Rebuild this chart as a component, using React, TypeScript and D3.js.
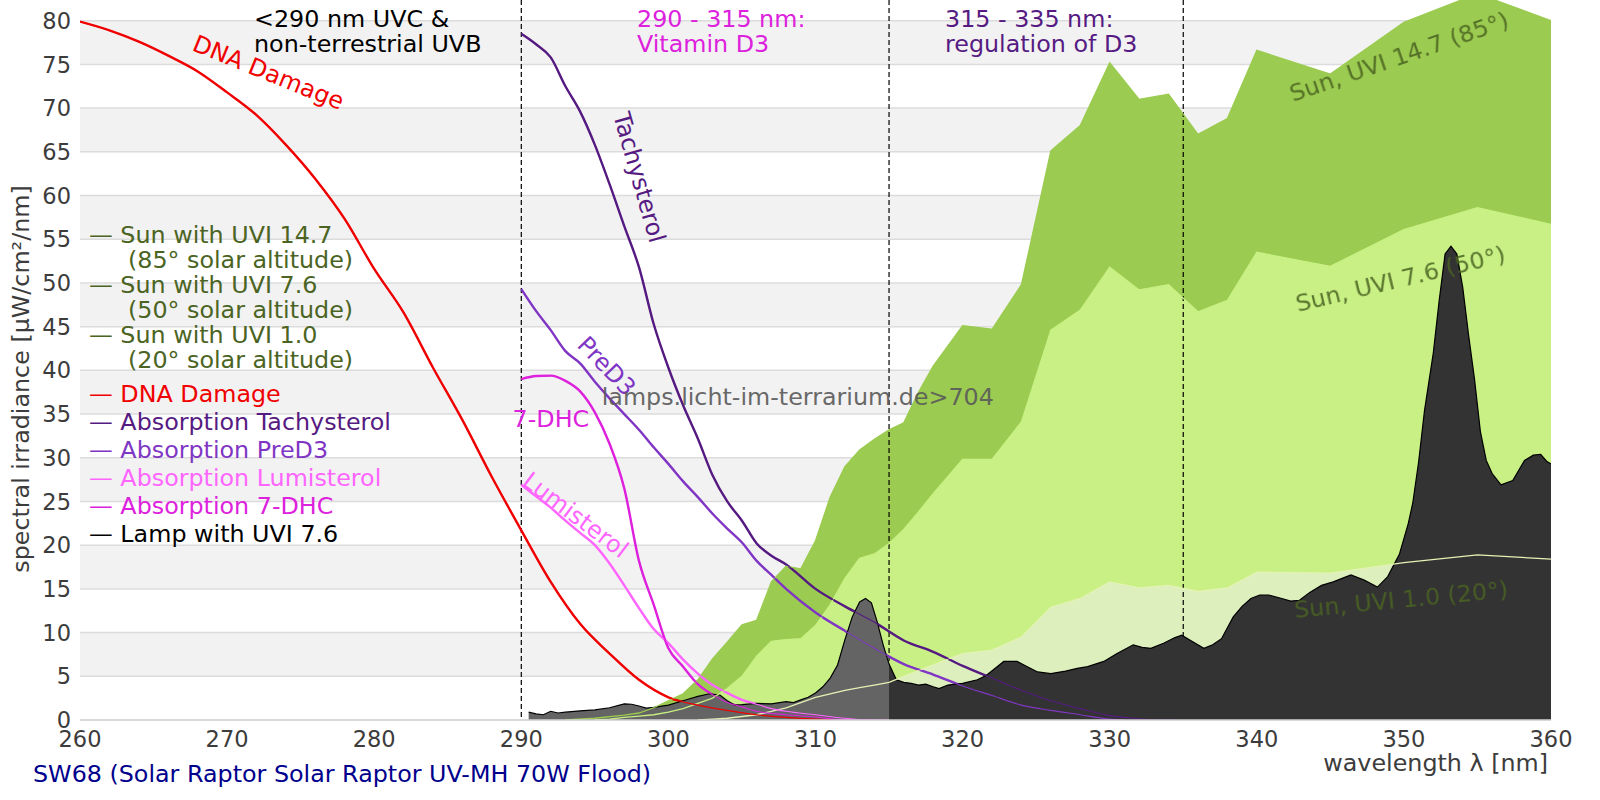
import * as d3 from "d3";

type Pt = [number, number];

const X_TICKS = [260, 270, 280, 290, 300, 310, 320, 330, 340, 350, 360];
const Y_TICKS = [0, 5, 10, 15, 20, 25, 30, 35, 40, 45, 50, 55, 60, 65, 70, 75, 80];
const REGION_BOUNDS = [290, 315, 335];

const DNA_DAMAGE: Pt[] = [
  [260, 79.9], [262, 78.9], [264, 77.6], [266, 76.0], [268, 74.2], [270, 71.8],
  [272, 69.2], [274, 65.8], [276, 61.9], [278, 57.3], [280, 51.6], [282, 46.6],
  [284, 40.3], [286, 34.3], [288, 27.8], [290, 21.7], [292, 15.8], [294, 11.0],
  [296, 7.6], [298, 4.6], [300, 2.6], [302, 1.7], [304, 1.1], [306, 0.6],
  [308, 0.3], [310, 0.1], [312, 0],
];

const TACHYSTEROL: Pt[] = [
  [290, 78.5], [291, 77.3], [292, 75.8], [293, 72.5], [294, 69.6], [295, 65.8],
  [296, 61.3], [297, 56.5], [298, 51.8], [299, 45.3], [300, 40.3], [301, 36.0],
  [302, 32.2], [303, 28.0], [304, 25.0], [305, 22.8], [306, 20.2], [307, 18.8],
  [308, 17.8], [310, 15.0], [312, 13.0], [314, 11.2], [316, 9.1], [318, 7.8],
  [320, 6.2], [322, 4.8], [324, 3.4], [326, 2.2], [328, 1.3], [330, 0.5],
  [332, 0.15], [333, 0], [334.5, 0],
];

const PRED3: Pt[] = [
  [290, 49.3], [291, 46.8], [292, 44.6], [293, 42.2], [294, 40.8], [295, 38.7],
  [296, 36.8], [297, 35.0], [298, 33.2], [299, 31.2], [300, 29.3], [301, 27.3],
  [302, 25.5], [303, 23.6], [304, 21.9], [305, 20.3], [306, 18.2], [307, 16.6],
  [308, 15.0], [310, 12.3], [312, 10.2], [314, 8.2], [316, 6.4], [318, 5.2],
  [320, 3.9], [322, 2.8], [324, 1.7], [326, 1.1], [328, 0.6], [330, 0.1],
  [331, 0],
];

const LUMISTEROL: Pt[] = [
  [290, 26.9], [291, 25.6], [292, 24.3], [293, 22.8], [294, 21.4], [295, 20.0],
  [296, 17.9], [297, 15.4], [298, 12.8], [299, 10.4], [300, 8.8], [301, 6.9],
  [302, 5.3], [303, 4.0], [304, 3.1], [305, 2.3], [306, 1.8], [307, 1.3],
  [308, 1.0], [310, 0.6], [312, 0.2], [313.5, 0], [315, 0],
];

const DHC7: Pt[] = [
  [290, 39.0], [291, 39.35], [292, 39.4], [293, 38.8], [294, 37.6], [295, 35.2],
  [296, 31.6], [297, 26.5], [298, 18.2], [299, 13.2], [300, 8.2], [301, 6.1],
  [302, 4.1], [303, 2.9], [304, 2.0], [305, 1.5], [306, 1.0], [308, 0.6],
  [310, 0.35], [312, 0], [314, 0],
];

const SUN_UVI_14_7: Pt[] = [
  [293, 0], [295, 0.2], [297, 0.55], [298, 0.8], [299, 1.4], [300, 2.2],
  [301, 3.0], [302, 4.6], [303, 7.0], [304, 8.9], [305, 10.9], [306, 11.4],
  [307, 15.8], [308, 17.6], [309, 17.3], [310, 20.5], [311, 25.5], [312, 29.0],
  [313, 30.9], [314, 32.1], [315, 33.2], [316, 34.0], [317, 37.5], [318, 40.5],
  [320, 45.1], [322, 44.7], [324, 49.8], [326, 65.1], [328, 68.0], [330, 75.2],
  [332, 71.0], [334, 71.6], [336, 67.0], [338, 68.8], [340, 76.6], [345, 73.9],
  [350, 79.8], [355, 83.1], [360, 80.0],
];

const SUN_UVI_7_6: Pt[] = [
  [295, 0], [296, 0.1], [297, 0.3], [298, 0.45], [299, 0.6], [300, 0.9],
  [301, 1.3], [302, 1.9], [303, 2.5], [304, 3.6], [305, 5.0], [306, 7.3],
  [307, 9.0], [308, 9.2], [309, 9.3], [310, 10.8], [311, 13.2], [312, 16.2],
  [313, 18.5], [314, 19.0], [315, 20.2], [316, 21.8], [317, 23.8], [318, 25.9],
  [320, 29.8], [322, 29.8], [324, 34.1], [326, 44.6], [328, 46.9], [330, 51.8],
  [332, 49.2], [334, 49.8], [336, 46.7], [338, 48.0], [340, 53.5], [345, 51.9],
  [350, 56.1], [355, 58.6], [360, 56.7],
];

const SUN_UVI_1_0: Pt[] = [
  [302, 0], [303, 0.1], [304, 0.2], [305, 0.4], [306, 0.6], [307, 1.0],
  [308, 1.4], [309, 2.0], [310, 2.6], [311, 3.0], [312, 3.4], [313, 3.7],
  [314, 4.0], [315, 4.3], [316, 5.0], [318, 6.3], [320, 7.6], [322, 8.0],
  [324, 9.5], [326, 12.9], [328, 13.9], [330, 15.8], [332, 15.1], [334, 15.4],
  [336, 14.7], [338, 15.1], [340, 16.9], [345, 16.8], [350, 18.0], [355, 18.9],
  [360, 18.4],
];

const LAMP: Pt[] = [
  [290.5, 0.9], [291, 0.7], [291.5, 0.6], [292, 1.0], [292.5, 0.8], [293, 0.9],
  [294, 1.05], [295, 1.15], [296, 1.4], [297, 1.85], [297.5, 1.8], [298, 1.6],
  [298.5, 1.35], [299, 1.45], [300, 1.7], [301, 2.2], [302, 2.7], [302.8, 3.0],
  [303.5, 2.85], [304, 2.2], [304.5, 1.7], [305, 1.75], [306, 1.9], [307, 1.85],
  [308, 2.1], [308.5, 2.0], [309, 2.3], [309.5, 2.6], [310, 3.1], [310.5, 3.8],
  [311, 4.8], [311.5, 6.3], [312, 9.2], [312.5, 11.8], [313, 13.5], [313.4, 13.9],
  [313.8, 13.4], [314.2, 11.2], [314.6, 8.6], [315, 6.4], [315.5, 4.6], [316, 4.3],
  [316.5, 4.2], [317, 4.0], [317.5, 4.1], [318, 3.8], [318.4, 3.6], [319, 4.0],
  [319.5, 4.1], [320, 4.2], [321, 4.6], [321.6, 5.1], [322.2, 5.9], [322.8, 6.7],
  [323.7, 6.7], [324.4, 6.1], [325.1, 5.5], [326, 5.3], [326.3, 5.4], [327, 5.6],
  [327.8, 5.9], [328.5, 6.1], [329.6, 6.7], [330.5, 7.6], [331.6, 8.6], [332.2, 8.3],
  [332.8, 8.2], [333.7, 8.8], [334.4, 9.4], [334.9, 9.7], [335.5, 9.1], [336.4, 8.2],
  [337, 8.6], [337.6, 9.3], [338.4, 11.8], [339, 13.0], [339.6, 13.9], [340.2, 14.3],
  [340.8, 14.3], [341.7, 13.9], [342.3, 13.6], [342.9, 13.7], [343.6, 14.6], [344.4, 15.4],
  [345.2, 15.8], [345.8, 16.2], [346.4, 16.6], [347.3, 16.0], [348.2, 15.2], [348.9, 16.4],
  [349.7, 19.0], [350.3, 22.5], [350.6, 24.8], [351, 29.5], [351.4, 35.4], [352, 42],
  [352.4, 48], [352.8, 53.3], [353.2, 54.2], [353.6, 53.3], [354, 49.5], [354.4, 44],
  [354.8, 39], [355.2, 33], [355.6, 29.7], [356, 28.2], [356.6, 26.9], [357.4, 27.4],
  [358.2, 29.7], [358.8, 30.3], [359.3, 30.4], [359.7, 29.6], [360, 29.3],
];

const LEGEND_MAIN = [
  "— DNA Damage",
  "— Absorption Tachysterol",
  "— Absorption PreD3",
  "— Absorption Lumisterol",
  "— Absorption 7-DHC",
  "— Lamp with UVI 7.6",
];
const LEGEND_SUN = [
  ["— Sun with UVI 14.7", "(85° solar altitude)"],
  ["— Sun with UVI 7.6", "(50° solar altitude)"],
  ["— Sun with UVI 1.0", "(20° solar altitude)"],
];

const C = {
  dna: "#f00000",
  tachy: "#561b82",
  pred3: "#8036c4",
  lumi: "#ff66ff",
  dhc: "#dd22dd",
  sunText: "#4b6423",
  green1: "#9bcb50",
  green2: "#c8f084",
  green3: "#dcefbc",
  line3: "#e4f2b4",
};

const FONT = "DejaVu Sans, sans-serif";

export default function App() {
  const x = d3.scaleLinear().domain([260, 360]).range([80, 1551]);
  const y = d3.scaleLinear().domain([0, 80]).range([720, 20.7]);
  const line = d3.line<Pt>().x((d) => x(d[0])).y((d) => y(d[1]));
  const smooth = d3
    .line<Pt>()
    .x((d) => x(d[0]))
    .y((d) => y(d[1]))
    .curve(d3.curveMonotoneX);
  const area = d3
    .area<Pt>()
    .x((d) => x(d[0]))
    .y0(y(0))
    .y1((d) => y(d[1]));

  const bands = Y_TICKS.filter((v) => v < 80 && (v / 5) % 2 === 1);
  const curves: [Pt[], string][] = [
    [DNA_DAMAGE, C.dna],
    [TACHYSTEROL, C.tachy],
    [PRED3, C.pred3],
    [LUMISTEROL, C.lumi],
    [DHC7, C.dhc],
  ];
  const legendColors = [C.dna, C.tachy, C.pred3, C.lumi, C.dhc, "#000"];
  const split = x(315);

  return (
    <svg
      width={1600}
      height={800}
      style={{ position: "absolute", left: 0, top: 0, display: "block" }}
      fontFamily={FONT}
    >
      <defs>
        <clipPath id="plot">
          <rect x={80} y={0} width={1551 - 80} height={720} />
        </clipPath>
        <clipPath id="uvb">
          <rect x={80} y={0} width={split - 80} height={720} />
        </clipPath>
        <clipPath id="uva">
          <rect x={split} y={0} width={1551 - split} height={720} />
        </clipPath>
      </defs>
      <rect width={1600} height={800} fill="#fff" />

      {bands.map((v) => (
        <rect key={v} x={80} width={1551 - 80} y={y(v + 5)} height={y(v) - y(v + 5)} fill="#f2f2f2" />
      ))}
      {Y_TICKS.map((v) => (
        <line key={v} x1={80} x2={1551} y1={y(v)} y2={y(v)} stroke="#dcdcdc" strokeWidth={1.5} />
      ))}

      <g clipPath="url(#plot)">
        <path d={area(SUN_UVI_14_7) ?? ""} fill={C.green1} />
        <path d={area(SUN_UVI_7_6) ?? ""} fill={C.green2} />
        <path d={area(SUN_UVI_1_0) ?? ""} fill={C.green3} />

        {REGION_BOUNDS.map((b) => (
          <line key={b} x1={x(b)} x2={x(b)} y1={0} y2={720} stroke="#000" strokeWidth={1.2} strokeDasharray="5,3" />
        ))}

        {curves.map(([data, color], i) => (
          <path key={i} d={smooth(data) ?? ""} fill="none" stroke={color} strokeWidth={2.4} />
        ))}

        <path d={area(LAMP) ?? ""} fill="#646464" clipPath="url(#uvb)" />
        <path d={area(LAMP) ?? ""} fill="#333333" clipPath="url(#uva)" />
        <path d={line(LAMP) ?? ""} fill="none" stroke="#000" strokeWidth={1.2} />

        <path d={line(SUN_UVI_14_7) ?? ""} fill="none" stroke={C.green1} strokeWidth={1.3} />
        <path d={line(SUN_UVI_7_6) ?? ""} fill="none" stroke={C.green2} strokeWidth={1.3} />
        <path d={line(SUN_UVI_1_0) ?? ""} fill="none" stroke={C.line3} strokeWidth={1.3} />

        {curves.map(([data, color], i) => (
          <path key={i} d={smooth(data) ?? ""} fill="none" stroke={color} strokeWidth={1.1} />
        ))}
      </g>

      <line x1={80} x2={1551} y1={720} y2={720} stroke="#d4d4d4" strokeWidth={1.5} />

      {Y_TICKS.map((v) => (
        <text key={v} x={71} y={y(v)} dy="0.36em" textAnchor="end" fontSize={22.5} fill="#3c3c3c">
          {v}
        </text>
      ))}
      {X_TICKS.map((v) => (
        <text key={v} x={x(v)} y={747} textAnchor="middle" fontSize={22.5} fill="#3c3c3c">
          {v}
        </text>
      ))}

      <text x={29} y={379} transform="rotate(-90 29 379)" textAnchor="middle" fontSize={23.8} fill="#3c3c3c">
        spectral irradiance [µW/cm²/nm]
      </text>
      <text x={1548} y={771} textAnchor="end" fontSize={23.8} fill="#3c3c3c">
        wavelength λ [nm]
      </text>
      <text x={33} y={782} fontSize={23.8} fill="#00008c">
        SW68 (Solar Raptor Solar Raptor UV-MH 70W Flood)
      </text>

      <g fontSize={23.8}>
        <text x={254} y={26.7} fill="#000">&lt;290 nm UVC &amp;</text>
        <text x={254} y={51.7} fill="#000">non-terrestrial UVB</text>
        <text x={637} y={26.7} fill={C.dhc}>290 - 315 nm:</text>
        <text x={637} y={51.7} fill={C.dhc}>Vitamin D3</text>
        <text x={945} y={26.7} fill={C.tachy}>315 - 335 nm:</text>
        <text x={945} y={51.7} fill={C.tachy}>regulation of D3</text>
      </g>

      <g fontSize={23.8}>
        {LEGEND_SUN.map(([a, b], i) => (
          <g key={i} fill={C.sunText}>
            <text x={89} y={242.7 + i * 50}>{a}</text>
            <text x={128} y={268.3 + i * 50}>{b}</text>
          </g>
        ))}
        {LEGEND_MAIN.map((t, i) => (
          <text key={t} x={89} y={401.7 + i * 28} fill={legendColors[i]}>
            {t}
          </text>
        ))}
      </g>

      <g fontSize={23.8}>
        <text transform="translate(191,50) rotate(22)" fill={C.dna}>DNA Damage</text>
        <text transform="translate(613,115) rotate(74)" fill={C.tachy}>Tachysterol</text>
        <text transform="translate(576,346) rotate(46)" fill={C.pred3}>PreD3</text>
        <text x={512.6} y={426.7} fill={C.dhc}>7-DHC</text>
        <text transform="translate(521,484) rotate(37)" fill={C.lumi}>Lumisterol</text>
      </g>

      <text x={601.7} y={405} fontSize={23.8} fill="#5a5a5a" opacity={0.9}>
        lamps.licht-im-terrarium.de&gt;704
      </text>

      <g fontSize={23.8} fill={C.sunText} opacity={0.88}>
        <text transform="translate(1293,102) rotate(-19)">Sun, UVI 14.7 (85°)</text>
        <text transform="translate(1298,312) rotate(-13.5)">Sun, UVI 7.6 (50°)</text>
        <text transform="translate(1295,618) rotate(-5.5)">Sun, UVI 1.0 (20°)</text>
      </g>
    </svg>
  );
}
